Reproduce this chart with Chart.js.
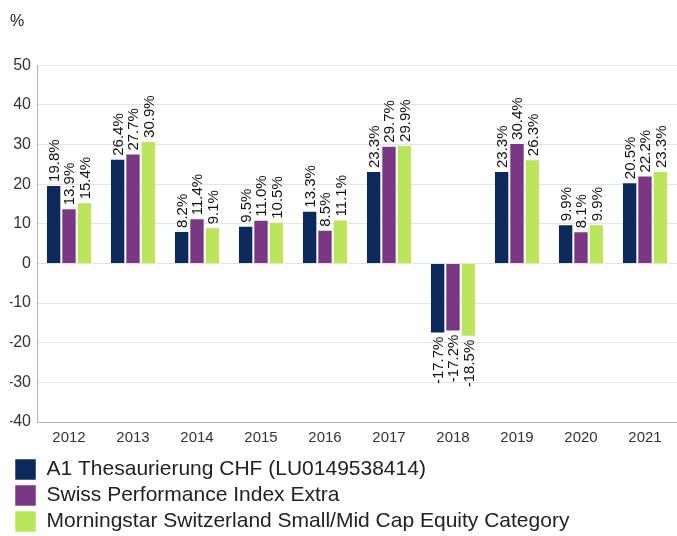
<!DOCTYPE html>
<html>
<head>
<meta charset="utf-8">
<script src="https://cdn.jsdelivr.net/npm/chart.js@4"></script>
<style>
  html, body { margin: 0; padding: 0; background: #fff; }
  #wrap { width: 677px; height: 536px; position: relative; }
</style>
</head>
<body>
<div id="wrap"><canvas id="my_chart"></canvas></div>
<script>
// years on the x axis
var years = ['2012', '2013', '2014', '2015', '2016', '2017', '2018', '2019', '2020', '2021']

// yearly returns in %
var fund_values = [19.8, 26.4, 8.2, 9.5, 13.3, 23.3, -17.7, 23.3, 9.9, 20.5]
var index_values = [13.9, 27.7, 11.4, 11.0, 8.5, 29.7, -17.2, 30.4, 8.1, 22.2]
var category_values = [15.4, 30.9, 9.1, 10.5, 11.1, 29.9, -18.5, 26.3, 9.9, 23.3]

var series_names = [
    'A1 Thesaurierung CHF (LU0149538414)',
    'Swiss Performance Index Extra',
    'Morningstar Switzerland Small/Mid Cap Equity Category'
]

var y_min = -40
var y_max = 50
var y_step = 10

var font_family = '"Liberation Sans", Arial, sans-serif'

// rotated value labels on top (or below) each bar
var bar_labels = {
    id: 'bar_labels',
    afterDatasetsDraw(chart) {
        var ctx = chart.ctx
        ctx.save()
        ctx.font = '15px ' + font_family
        ctx.fillStyle = '#111'
        ctx.textBaseline = 'middle'
        chart.data.datasets.forEach((ds, i) => {
            var meta = chart.getDatasetMeta(i)
            meta.data.forEach((bar, j) => {
                var v = ds.data[j]
                var txt = v.toFixed(1) + '%'
                ctx.save()
                if (v >= 0) {
                    ctx.translate(bar.x, bar.y - 3)
                    ctx.rotate(-Math.PI / 2)
                    ctx.textAlign = 'left'
                } else {
                    ctx.translate(bar.x, bar.y + 3)
                    ctx.rotate(-Math.PI / 2)
                    ctx.textAlign = 'right'
                }
                ctx.fillText(txt, 0, 1)
                ctx.restore()
            })
        })
        ctx.restore()
    }
}

window.addEventListener("DOMContentLoaded", () => {
    var ctx = document.getElementById("my_chart")
    var colors = ['#0b2a5b', '#7a3884', '#b9e65b']
    var all_values = [fund_values, index_values, category_values]

    var my_chart = new Chart(ctx, {
        type: 'bar',
        data: {
            labels: years,
            datasets: all_values.map((vals, i) => ({
                label: series_names[i],
                data: vals,
                backgroundColor: colors[i],
                borderColor: 'rgba(255,255,255,0.5)',
                borderWidth: 1,
                categoryPercentage: 0.72,
                barPercentage: 1.0
            }))
        },
        options: {
            responsive: true,
            maintainAspectRatio: false,
            animation: false,
            layout: { padding: { left: 10, right: 0, top: 0, bottom: -6 } },
            plugins: {
                title: {
                    display: true,
                    text: '%',
                    align: 'start',
                    color: '#222',
                    font: { family: font_family, size: 16, weight: 'normal' },
                    padding: { top: 12, bottom: 34 }
                },
                legend: {
                    position: 'bottom',
                    align: 'start',
                    labels: {
                        boxWidth: 21,
                        boxHeight: 21,
                        padding: 5,
                        color: '#222',
                        font: { family: font_family, size: 21 }
                    }
                },
                tooltip: { enabled: false }
            },
            scales: {
                x: {
                    grid: { display: false, drawTicks: false },
                    border: { display: true, color: '#b0b0b0' },
                    ticks: {
                        color: '#333',
                        font: { family: font_family, size: 15 },
                        padding: 7
                    }
                },
                y: {
                    min: y_min,
                    max: y_max,
                    afterFit(scale) { scale.width = 27 },
                    ticks: {
                        stepSize: y_step,
                        color: '#333',
                        font: { family: font_family, size: 16 },
                        padding: 6
                    },
                    grid: { color: '#e4e4e4', drawTicks: false },
                    border: { display: true, color: '#b0b0b0' }
                }
            }
        },
        plugins: [bar_labels]
    })
})
</script>
</body>
</html>
